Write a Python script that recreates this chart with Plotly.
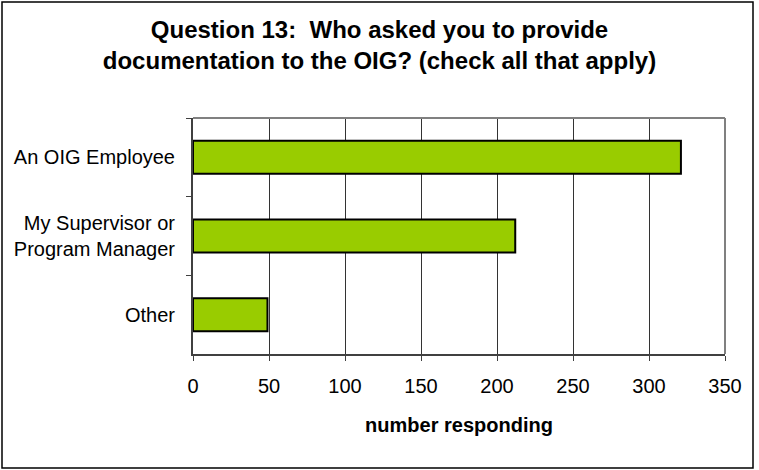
import plotly.graph_objects as go

categories = ["An OIG Employee", "My Supervisor or<br>Program Manager", "Other"]
responses = [321, 212, 49]
x_ticks = [0, 50, 100, 150, 200, 250, 300, 350]

FONT = "Liberation Sans, Arial, sans-serif"

# plot area in pixels: x 193..725, y 118..354
PW, PH = 532, 236

fig = go.Figure()
fig.add_trace(go.Bar(
    y=categories, x=responses, orientation="h", width=0.42,
    marker=dict(color="#99CC00", line=dict(color="#000000", width=2)),
    showlegend=False, hoverinfo="x+y",
))

fig.update_xaxes(
    range=[0, 350], tickvals=x_ticks, ticks="outside", ticklen=5,
    tickcolor="#404040", showline=True, linecolor="#404040", linewidth=2,
    showgrid=True, gridcolor="#333333", gridwidth=1, zeroline=False,
    ticklabelstandoff=8,
    tickfont=dict(family=FONT, size=20, color="#000000"),
    title=dict(text="<b>number responding</b>", standoff=22,
               font=dict(family=FONT, size=20, color="#000000")),
)
fig.update_yaxes(
    autorange="reversed", ticks="outside", ticklen=5, tickson="boundaries",
    tickcolor="#404040", showline=True, linecolor="#404040", linewidth=2,
    showgrid=False, ticklabelstandoff=12,
    tickfont=dict(family=FONT, size=20, color="#000000"),
)

# gray top/right border of the plot area, black frame round the chart
fig.add_shape(type="line", xref="paper", yref="paper", x0=0, x1=1, y0=1, y1=1,
              line=dict(color="#808080", width=2))
fig.add_shape(type="line", xref="paper", yref="paper", x0=1, x1=1, y0=0, y1=1,
              line=dict(color="#808080", width=2))
fig.add_shape(type="rect", xref="paper", yref="paper",
              x0=(2 - 193) / PW, x1=(753 - 193) / PW,
              y0=(354 - 468) / PH, y1=(354 - 2) / PH,
              line=dict(color="#000000", width=1.5))

fig.update_layout(
    width=759, height=470, margin=dict(l=193, r=34, t=118, b=116),
    paper_bgcolor="white", plot_bgcolor="white", bargap=0.58,
    title=dict(text="<b>Question 13:  Who asked you to provide<br>documentation to the OIG? (check all that apply)</b>",
               x=0.5, xanchor="center", y=0.92, yanchor="top",
               font=dict(family=FONT, size=24, color="#000000")),
)

fig.write_html("out.html", config={"displayModeBar": False},
               post_script="document.body.style.margin='0';")
